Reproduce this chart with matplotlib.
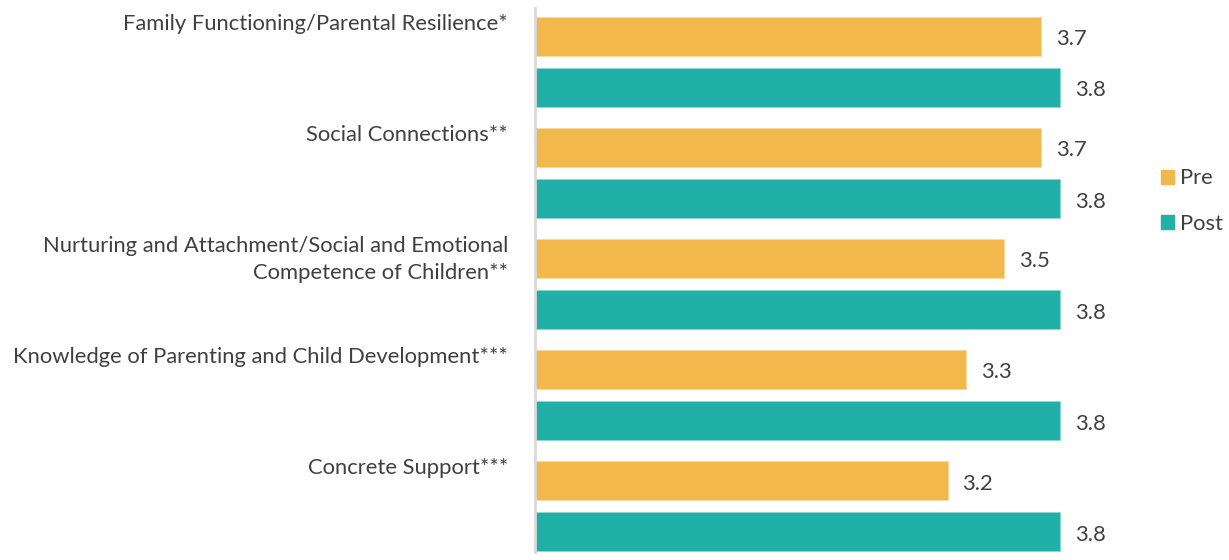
import matplotlib.pyplot as plt
from matplotlib.patches import Patch
from matplotlib.transforms import blended_transform_factory
import numpy as np

categories = [
    "Family Functioning/Parental Resilience*",
    "Social Connections**",
    "Nurturing and Attachment/Social and Emotional\nCompetence of Children**",
    "Knowledge of Parenting and Child Development***",
    "Concrete Support***",
]
pre = [3.7, 3.7, 3.5, 3.3, 3.2]
post = [3.8, 3.8, 3.8, 3.8, 3.8]

PRE_COLOR = "#F2B84B"
POST_COLOR = "#20B0A8"
TEXT_COLOR = "#404040"
FS = 15.8

plt.rcParams["font.family"] = ["Lato", "DejaVu Sans"]

fig = plt.figure(figsize=(12.29, 5.6), dpi=100)
ax = fig.add_axes([535 / 1229, 8 / 560, 3 * 187.5 / 1229, 544 / 560])

y = np.arange(len(categories))
h = 0.35
off = 0.23

ax.barh(y - off, pre, height=h, left=0, color=PRE_COLOR, edgecolor="#F8D9A0", linewidth=0.6)
ax.barh(y + off, post, height=h, left=0, color=POST_COLOR, edgecolor="#8FD8D2", linewidth=0.6)

ax.set_xlim(1, 4)
ax.set_ylim(4.414, -0.486)

for yi, v in zip(y - off, pre):
    ax.annotate(f"{v:.1f}", (v, yi), xytext=(15, -3), textcoords="offset pixels",
                va="center", ha="left", fontsize=FS, color=TEXT_COLOR)
for yi, v in zip(y + off, post):
    ax.annotate(f"{v:.1f}", (v, yi), xytext=(15, -3), textcoords="offset pixels",
                va="center", ha="left", fontsize=FS, color=TEXT_COLOR)

# category names sit just above each pair, right-aligned against the axis
trans = blended_transform_factory(fig.transFigure, ax.transData)
for yi, name in zip(y, categories):
    fig.text(508 / 1229, yi - off - h / 2 - 0.03, name, transform=trans,
             ha="right", va="top", fontsize=FS, color=TEXT_COLOR,
             linespacing=1.45, multialignment="right")

for side in ["top", "right", "bottom"]:
    ax.spines[side].set_visible(False)
ax.spines["left"].set_color("#D9D9D9")
ax.spines["left"].set_linewidth(2)
ax.set_xticks([])
ax.set_yticks([])

handles = [Patch(color=PRE_COLOR, label="Pre"), Patch(color=POST_COLOR, label="Post")]
fig.legend(handles=handles, loc="center left", bbox_to_anchor=(1141 / 1229, 1 - 201 / 560),
           frameon=False, fontsize=FS, handlelength=0.6, handleheight=0.6,
           handletextpad=0.3, labelspacing=1.15, labelcolor=TEXT_COLOR)

fig.savefig("out.png", dpi=100)
